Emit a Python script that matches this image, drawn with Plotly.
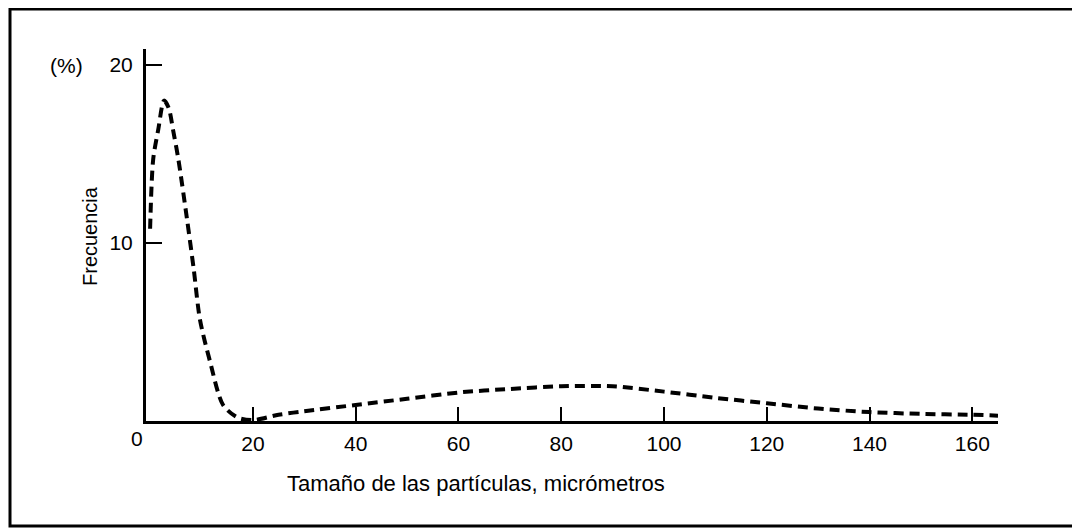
import plotly.graph_objects as go

# Data
size_um = [0, 0.6, 1.6, 2.7, 3.6, 4.5, 5.5, 7.2, 8.5, 9.7, 11.7, 14.2, 17, 20,
           25, 30, 40, 50, 60, 70, 80, 90, 100, 110, 120, 130, 140, 150, 160, 165]
freq_pct = [10.8, 14.7, 16.4, 18.0, 17.6, 16.3, 14.7, 11.3, 8.5, 5.7, 3.3, 0.9, 0.2, 0.05,
            0.35, 0.55, 0.9, 1.25, 1.6, 1.8, 1.95, 1.95, 1.65, 1.3, 1.0, 0.7, 0.5, 0.4, 0.35, 0.3]
x_ticks = [20, 40, 60, 80, 100, 120, 140, 160]
y_ticks = [10, 20]

FONT = "Liberation Sans, Arial, sans-serif"

OFF = 8  # page body margin
W, H = 1080 - OFF, 528 - OFF
# plot area in screen pixels
X0, X1, YTOP, YBOT = 146, 998, 49, 421
L, R, T, B = X0 - OFF, W - (X1 - OFF), YTOP - OFF, H - (YBOT - OFF)
pw, ph = W - L - R, H - T - B

def px(xs):
    return (xs - X0) / pw

def py(ys):
    return (YBOT - ys) / ph

fig = go.Figure()
fig.add_trace(go.Scatter(
    x=size_um, y=freq_pct, mode="lines",
    line=dict(color="black", width=4, dash="10px,6px", shape="spline", smoothing=0.8),
    hoverinfo="skip", showlegend=False,
))

fig.update_layout(
    width=W, height=H,
    margin=dict(l=L, r=R, t=T, b=B),
    paper_bgcolor="white", plot_bgcolor="white",
    font=dict(family=FONT, color="black", size=21),
    xaxis=dict(
        range=[-0.8, 165], showgrid=False, zeroline=False,
        showline=True, linecolor="black", linewidth=3,
        tickmode="array", tickvals=x_ticks, ticks="inside", ticklen=14,
        tickwidth=2, tickcolor="black", tickfont=dict(size=21),
        ticklabelstandoff=2,
    ),
    yaxis=dict(
        range=[0, 20.9], showgrid=False, zeroline=False,
        showline=True, linecolor="black", linewidth=3,
        tickmode="array", tickvals=y_ticks, ticks="inside", ticklen=16,
        tickwidth=2, tickcolor="black", tickfont=dict(size=21),
        ticklabelstandoff=6,
    ),
    shapes=[dict(type="rect", xref="paper", yref="paper",
                 x0=px(10), x1=px(1076), y0=py(526), y1=py(9),
                 line=dict(color="black", width=3))],
    annotations=[
        dict(text="0", xref="paper", yref="paper", x=px(137), y=py(438),
             showarrow=False, font=dict(size=21), xanchor="center", yanchor="middle"),
        dict(text="(%)", xref="paper", yref="paper", x=px(66), y=py(66),
             showarrow=False, font=dict(size=21), xanchor="center", yanchor="middle"),
        dict(text="Frecuencia", xref="paper", yref="paper", x=px(90), y=py(236),
             showarrow=False, textangle=-90, font=dict(size=20),
             xanchor="center", yanchor="middle"),
        dict(text="Tamaño de las partículas, micrómetros", xref="paper", yref="paper",
             x=px(476), y=py(483), showarrow=False, font=dict(size=22),
             xanchor="center", yanchor="middle"),
    ],
)

fig.write_html("out.html")
